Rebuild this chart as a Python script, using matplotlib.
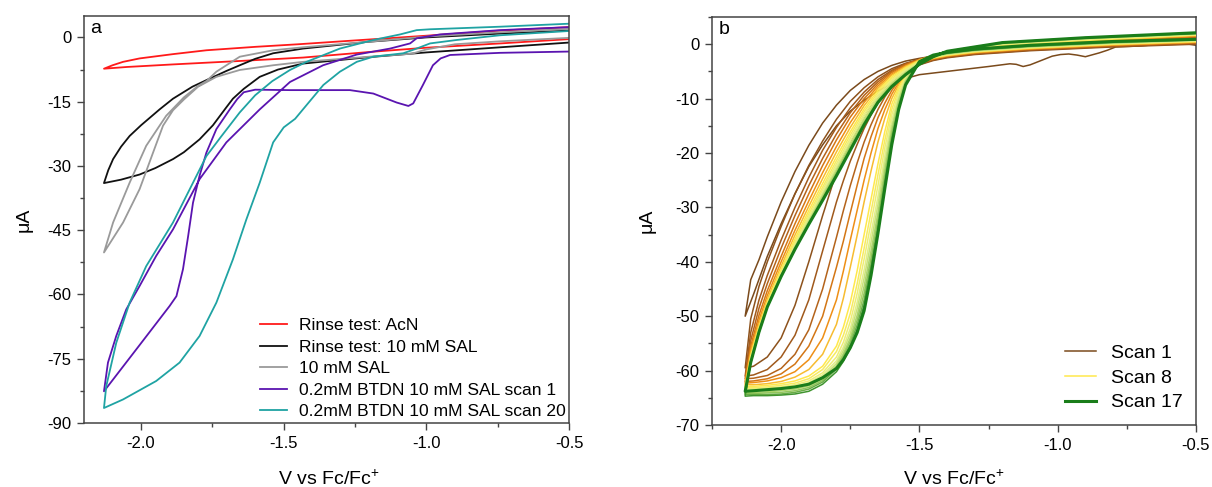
import numpy as np
import matplotlib
matplotlib.use("Agg")
import matplotlib.pyplot as plt
from matplotlib.colors import LinearSegmentedColormap
from matplotlib.ticker import MultipleLocator

plt.rcParams['font.family'] = ['Liberation Sans', 'DejaVu Sans']
plt.rcParams['axes.unicode_minus'] = False
plt.rcParams['mathtext.default'] = 'regular'

# ---------------- panel a : (V vs Fc/Fc+, uA), forward sweep then reverse ----------------
acn_loop = [(-0.5, -0.4), (-0.74, -1.4), (-1.0, -2.4), (-1.2, -3.4), (-1.432, -4.7), (-1.654, -5.5),
            (-1.888, -6.3), (-2.05, -6.9), (-2.13, -7.3),
            (-2.1, -6.5), (-2.063, -5.7), (-2.005, -4.9), (-1.888, -3.9), (-1.771, -3.0), (-1.6, -2.2),
            (-1.45, -1.6), (-1.25, -0.7), (-1.0, 0.4), (-0.74, 1.6), (-0.5, 2.4)]

rinse_sal_loop = [(-0.5, -1.2), (-0.74, -2.3), (-1.0, -3.5), (-1.2, -4.6), (-1.432, -6.1), (-1.52, -7.5),
                  (-1.584, -9.2), (-1.64, -12.0), (-1.678, -14.3), (-1.702, -16.4), (-1.748, -20.5),
                  (-1.795, -23.8), (-1.85, -26.8), (-1.888, -28.4), (-1.95, -30.5), (-2.005, -32.0),
                  (-2.07, -33.2), (-2.13, -34.0),
                  (-2.115, -31.0), (-2.098, -28.4), (-2.07, -25.5), (-2.04, -23.0), (-2.0, -20.5),
                  (-1.935, -16.8), (-1.888, -14.3), (-1.82, -11.5), (-1.772, -10.0), (-1.7, -7.8),
                  (-1.654, -6.5), (-1.6, -5.0), (-1.537, -3.7), (-1.432, -2.6), (-1.2, -1.0),
                  (-1.0, 0.0), (-0.74, 0.9), (-0.5, 1.6)]

sal_loop = [(-0.5, -0.1), (-0.74, -0.9), (-0.9, -1.6), (-1.0, -2.8), (-1.05, -3.8), (-1.2, -4.5),
            (-1.432, -5.7), (-1.537, -6.5), (-1.654, -7.6), (-1.736, -9.2), (-1.8, -11.5), (-1.85, -14.5),
            (-1.888, -17.0), (-1.923, -20.6), (-1.958, -26.9), (-2.005, -35.4), (-2.063, -43.2), (-2.13, -50.2),
            (-2.098, -43.2), (-2.04, -33.9), (-1.982, -25.3), (-1.912, -18.3), (-1.85, -14.0), (-1.8, -11.3),
            (-1.771, -10.2), (-1.736, -8.0), (-1.654, -4.5), (-1.537, -3.0), (-1.432, -2.3), (-1.2, -1.0),
            (-1.0, 0.2), (-0.74, 1.2), (-0.5, 2.0)]

btdn_scan1_loop = [(-0.5, -3.3), (-0.742, -3.6), (-0.917, -4.1), (-0.95, -4.9), (-0.977, -6.5), (-1.012, -11.1),
                   (-1.046, -15.4), (-1.063, -16.0), (-1.104, -15.2), (-1.186, -13.1), (-1.268, -12.3),
                   (-1.478, -12.3), (-1.6, -12.2), (-1.64, -12.8), (-1.663, -14.4), (-1.689, -16.8),
                   (-1.736, -21.4), (-1.771, -26.9), (-1.795, -32.3), (-1.818, -38.6), (-1.835, -46.4),
                   (-1.853, -54.1), (-1.876, -60.4), (-1.9, -62.7), (-2.005, -71.8), (-2.13, -82.6),
                   (-2.116, -75.9), (-2.087, -69.7), (-2.052, -63.5), (-2.005, -58.0), (-1.947, -51.0),
                   (-1.888, -44.8), (-1.795, -33.1), (-1.701, -24.5), (-1.584, -16.8), (-1.478, -10.4),
                   (-1.362, -6.5), (-1.244, -4.0), (-1.127, -2.6), (-1.057, -1.4), (-1.034, -0.2),
                   (-0.952, 0.7), (-0.742, 1.7), (-0.5, 2.4)]

btdn_scan20_loop = [(-0.5, 1.5), (-0.742, 0.5), (-0.894, -0.6), (-0.987, -1.4), (-1.034, -2.6), (-1.081, -3.7),
                    (-1.186, -4.5), (-1.244, -5.7), (-1.303, -8.0), (-1.361, -11.1), (-1.42, -15.8),
                    (-1.46, -19.0), (-1.5, -21.0), (-1.537, -24.5), (-1.584, -33.9), (-1.631, -42.5),
                    (-1.678, -51.8), (-1.736, -61.9), (-1.795, -69.7), (-1.865, -75.9), (-1.947, -80.2),
                    (-2.063, -84.5), (-2.13, -86.5),
                    (-2.122, -81.4), (-2.087, -71.3), (-2.04, -61.9), (-1.982, -53.4), (-1.888, -43.2),
                    (-1.771, -27.7), (-1.72, -23.2), (-1.654, -17.5), (-1.6, -13.5), (-1.54, -10.2),
                    (-1.478, -7.6), (-1.42, -5.7), (-1.303, -2.6), (-1.186, -0.6), (-1.092, 0.7),
                    (-1.034, 1.7), (-0.987, 1.9), (-0.742, 2.5), (-0.5, 3.2)]

labels_a = ["Rinse test: AcN", "Rinse test: 10 mM SAL", "10 mM SAL",
            "0.2mM BTDN 10 mM SAL scan 1", "0.2mM BTDN 10 mM SAL scan 20"]
colors_a = ["#ff1a1a", "#111111", "#9a9a9a", "#5a14b0", "#1fa3a3"]

# ---------------- panel b : 17 scans ----------------
scan1_fwd = [(-0.5, -0.2), (-0.55, 0.2), (-0.6, 0.3), (-0.65, -0.1), (-0.7, -0.3), (-0.74, -0.4),
             (-0.79, -0.5), (-0.82, -1.1), (-0.85, -1.6), (-0.9, -2.3), (-0.93, -2.0), (-0.96, -1.8),
             (-0.99, -1.9), (-1.02, -2.2), (-1.06, -3.0), (-1.1, -3.8), (-1.125, -4.1), (-1.15, -3.7),
             (-1.173, -3.6), (-1.25, -4.1), (-1.35, -4.7), (-1.45, -5.3), (-1.5, -5.6), (-1.55, -6.3),
             (-1.6, -7.3), (-1.65, -8.6), (-1.7, -10.3), (-1.75, -12.3), (-1.8, -15.0), (-1.85, -18.5),
             (-1.9, -22.5), (-1.95, -27.5), (-2.0, -33.0), (-2.05, -39.0), (-2.1, -46.0), (-2.13, -50.0)]

v_fwd = [-0.5, -0.8, -1.1, -1.3, -1.4, -1.45, -1.5, -1.55, -1.575, -1.6, -1.625, -1.65, -1.675,
         -1.7, -1.725, -1.75, -1.775, -1.8, -1.85, -1.9, -1.95, -2.0, -2.05, -2.1, -2.13]
# forward sweeps, scans 2..17
fwd_scans = [
    [0.0, -0.5, -1.2, -1.9, -2.5, -3.0, -3.8, -5.0, -5.9, -7.0, -8.3, -9.8, -11.5, -13.5, -15.8, -18.3, -20.8, -23.5, -31.5, -40.0, -48.0, -54.0, -57.5, -59.2, -59.5],
    [0.1, -0.4, -1.1, -1.8, -2.4, -2.9, -3.7, -5.0, -6.0, -7.3, -8.9, -10.8, -13.0, -15.5, -18.4, -21.5, -25.1, -29.0, -38.0, -47.0, -53.5, -57.5, -59.8, -60.8, -61.0],
    [0.2, -0.3, -1.0, -1.7, -2.3, -2.8, -3.6, -5.2, -6.4, -7.8, -9.7, -12.0, -14.8, -18.0, -21.8, -26.0, -30.6, -35.5, -45.0, -52.5, -57.0, -59.6, -60.9, -61.4, -61.5],
    [0.3, -0.2, -0.9, -1.6, -2.2, -2.7, -3.5, -5.3, -6.7, -8.5, -10.8, -13.5, -17.0, -21.0, -25.9, -31.0, -36.2, -41.0, -50.0, -55.5, -58.8, -60.6, -61.5, -61.9, -62.0],
    [0.35, -0.15, -0.85, -1.55, -2.15, -2.65, -3.4, -5.5, -7.1, -9.2, -12.0, -15.5, -20.0, -25.0, -30.5, -36.0, -41.7, -47.0, -54.0, -58.0, -60.2, -61.3, -61.9, -62.2, -62.3],
    [0.4, -0.1, -0.8, -1.5, -2.1, -2.6, -3.3, -5.6, -7.5, -10.0, -13.6, -18.0, -23.3, -29.0, -35.1, -41.0, -46.7, -51.5, -57.0, -59.8, -61.2, -62.0, -62.4, -62.6, -62.6],
    [0.5, 0.0, -0.7, -1.4, -2.0, -2.5, -3.2, -5.8, -7.9, -11.0, -16.0, -22.0, -28.5, -35.0, -41.6, -47.5, -52.0, -55.5, -59.2, -61.0, -61.9, -62.4, -62.7, -62.9, -62.9],
    [0.55, 0.05, -0.65, -1.35, -1.95, -2.45, -3.2, -6.0, -8.4, -12.0, -17.6, -24.0, -30.8, -37.5, -44.0, -49.5, -53.5, -56.5, -59.8, -61.5, -62.3, -62.7, -63.0, -63.1, -63.1],
    [0.6, 0.1, -0.6, -1.3, -1.9, -2.4, -3.2, -6.2, -9.0, -13.0, -19.0, -26.0, -32.8, -39.5, -45.8, -51.0, -54.8, -57.5, -60.4, -61.9, -62.6, -63.0, -63.2, -63.3, -63.3],
    [0.65, 0.15, -0.55, -1.25, -1.85, -2.35, -3.2, -6.4, -9.5, -14.0, -20.5, -28.0, -34.8, -41.5, -47.4, -52.3, -55.7, -58.2, -60.8, -62.2, -62.9, -63.2, -63.4, -63.5, -63.5],
    [0.7, 0.2, -0.5, -1.2, -1.8, -2.3, -3.2, -6.6, -10.0, -15.0, -21.8, -29.5, -36.4, -43.0, -48.6, -53.2, -56.3, -58.7, -61.2, -62.5, -63.1, -63.4, -63.6, -63.7, -63.7],
    [0.75, 0.25, -0.45, -1.15, -1.75, -2.25, -3.2, -6.8, -10.5, -15.8, -23.0, -31.0, -38.0, -44.5, -49.8, -54.0, -56.9, -59.1, -61.5, -62.8, -63.4, -63.7, -63.9, -64.0, -64.0],
    [0.8, 0.3, -0.4, -1.1, -1.7, -2.2, -3.2, -7.0, -11.0, -16.5, -24.0, -32.2, -39.3, -45.8, -50.7, -54.6, -57.3, -59.4, -61.8, -63.1, -63.7, -64.0, -64.1, -64.2, -64.2],
    [0.82, 0.35, -0.35, -1.05, -1.65, -2.15, -3.2, -7.2, -11.5, -17.2, -25.0, -33.3, -40.5, -47.0, -51.6, -55.2, -57.7, -59.7, -62.1, -63.4, -64.0, -64.3, -64.4, -64.4, -64.4],
    [0.85, 0.4, -0.3, -1.0, -1.6, -2.1, -3.2, -7.4, -11.8, -17.8, -25.8, -34.2, -41.5, -48.0, -52.4, -55.8, -58.3, -60.2, -62.5, -63.8, -64.3, -64.5, -64.6, -64.6, -64.7],
    [0.9, 0.5, -0.2, -0.9, -1.5, -2.0, -3.2, -7.5, -12.0, -18.5, -26.5, -34.8, -42.5, -49.0, -53.0, -55.8, -58.0, -59.6, -61.3, -62.5, -63.0, -63.3, -63.5, -63.7, -63.8],
]

v_rev = [-2.13, -2.11, -2.08, -2.05, -2.0, -1.95, -1.9, -1.85, -1.8, -1.75, -1.7, -1.65,
         -1.6, -1.55, -1.5, -1.45, -1.4, -1.2, -0.9, -0.5]
# reverse sweeps, scans 1..17
rev_scans = [
    [-50.0, -43.3, -39.6, -35.4, -29.0, -23.4, -18.6, -14.5, -11.2, -8.5, -6.5, -5.0, -3.9, -3.1, -2.6, -2.2, -1.9, -0.9, 0.0, 1.0],
    [-59.5, -50.5, -44.5, -40.0, -33.5, -27.5, -22.3, -17.8, -13.8, -10.5, -8.0, -6.0, -4.5, -3.5, -2.8, -2.3, -1.9, -0.8, 0.1, 1.1],
    [-61.0, -53.0, -47.0, -42.5, -36.0, -30.0, -24.5, -19.5, -15.3, -11.7, -8.8, -6.5, -4.8, -3.6, -2.8, -2.2, -1.8, -0.7, 0.2, 1.2],
    [-61.5, -54.5, -48.5, -44.0, -37.5, -31.5, -26.0, -21.0, -16.5, -12.6, -9.4, -6.9, -5.0, -3.7, -2.8, -2.2, -1.7, -0.6, 0.3, 1.3],
    [-62.0, -55.5, -49.8, -45.3, -39.0, -33.0, -27.5, -22.3, -17.6, -13.4, -10.0, -7.3, -5.2, -3.8, -2.8, -2.1, -1.6, -0.5, 0.4, 1.4],
    [-62.3, -56.2, -50.7, -46.2, -40.0, -34.2, -28.8, -23.6, -18.8, -14.4, -10.7, -7.7, -5.5, -4.0, -2.9, -2.1, -1.6, -0.4, 0.5, 1.5],
    [-62.6, -56.8, -51.4, -46.9, -40.8, -35.1, -29.8, -24.7, -19.8, -15.3, -11.3, -8.1, -5.7, -4.1, -2.9, -2.1, -1.5, -0.3, 0.6, 1.6],
    [-62.9, -57.3, -51.9, -47.4, -41.4, -35.8, -30.6, -25.6, -20.7, -16.1, -11.9, -8.5, -6.0, -4.3, -3.0, -2.1, -1.5, -0.2, 0.7, 1.7],
    [-63.1, -57.6, -52.2, -47.7, -41.8, -36.3, -31.2, -26.3, -21.4, -16.7, -12.4, -8.9, -6.3, -4.5, -3.1, -2.1, -1.4, -0.1, 0.8, 1.7],
    [-63.3, -57.8, -52.4, -47.9, -42.1, -36.7, -31.7, -26.8, -22.0, -17.3, -12.9, -9.3, -6.6, -4.7, -3.2, -2.2, -1.4, 0.0, 0.9, 1.8],
    [-63.5, -58.0, -52.6, -48.0, -42.3, -37.0, -32.1, -27.3, -22.5, -17.8, -13.4, -9.7, -6.9, -4.9, -3.3, -2.2, -1.4, 0.1, 1.0, 1.8],
    [-63.7, -58.2, -52.7, -48.1, -42.4, -37.2, -32.4, -27.7, -23.0, -18.3, -13.8, -10.0, -7.2, -5.1, -3.4, -2.2, -1.4, 0.1, 1.0, 1.9],
    [-63.9, -58.3, -52.8, -48.2, -42.5, -37.4, -32.7, -28.0, -23.4, -18.7, -14.2, -10.3, -7.4, -5.3, -3.5, -2.3, -1.4, 0.2, 1.1, 1.9],
    [-64.1, -58.4, -52.9, -48.2, -42.6, -37.5, -32.9, -28.3, -23.7, -19.0, -14.5, -10.5, -7.6, -5.4, -3.6, -2.3, -1.4, 0.2, 1.1, 2.0],
    [-64.3, -58.5, -52.9, -48.3, -42.6, -37.6, -33.0, -28.5, -23.9, -19.3, -14.7, -10.6, -7.7, -5.5, -3.6, -2.3, -1.3, 0.3, 1.2, 2.0],
    [-64.6, -58.6, -53.0, -48.3, -42.7, -37.7, -33.1, -28.6, -24.1, -19.4, -14.8, -10.7, -7.8, -5.6, -3.7, -2.3, -1.3, 0.3, 1.2, 2.0],
    [-63.8, -58.5, -52.9, -48.3, -42.7, -37.7, -33.1, -28.7, -24.2, -19.5, -14.8, -10.7, -7.8, -5.6, -3.7, -2.3, -1.3, 0.3, 1.2, 2.1],
]
legend_scans_b = [1, 8, 17]

scan_cmap = LinearSegmentedColormap.from_list(
    "scans", [(0.0, "#7a4a1c"), (0.18, "#b0601c"), (0.3, "#ec8510"), (0.4375, "#ffe84a"),
              (0.62, "#e6f08a"), (0.8, "#9ccc60"), (1.0, "#1a7d1a")])

# ---------------- figure ----------------
fig = plt.figure(figsize=(12.12, 4.87), dpi=100)
ax_a = fig.add_axes([84 / 1212, 1 - 423 / 487, 485 / 1212, 407 / 487])
ax_b = fig.add_axes([712 / 1212, 1 - 425 / 487, 484 / 1212, 408 / 487])

for loop, lab, col in zip([acn_loop, rinse_sal_loop, sal_loop, btdn_scan1_loop, btdn_scan20_loop],
                          labels_a, colors_a):
    v, i = zip(*loop)
    ax_a.plot(v, i, color=col, lw=1.3, label=lab, solid_joinstyle="round")

s1_v, s1_i = zip(*scan1_fwd)
for n in range(17):
    if n == 0:
        v = list(s1_v) + v_rev
        i = list(s1_i) + rev_scans[0]
    else:
        v = v_fwd + v_rev
        i = fwd_scans[n - 1] + rev_scans[n]
    col = scan_cmap(n / 16)
    lw = 2.2 if n == 16 else 1.1
    lab = f"Scan {n + 1}" if (n + 1) in legend_scans_b else None
    ax_b.plot(v, i, color=col, lw=lw, label=lab, zorder=2 + n, solid_joinstyle="round")

for ax, ylim, ymaj, letter in [(ax_a, (-90, 5), 15, "a"), (ax_b, (-70, 5), 10, "b")]:
    ax.set_xlim(-2.2 if ax is ax_a else -2.25, -0.5)
    ax.set_ylim(*ylim)
    ax.xaxis.set_major_locator(MultipleLocator(0.5))
    ax.xaxis.set_minor_locator(MultipleLocator(0.25))
    ax.yaxis.set_major_locator(MultipleLocator(ymaj))
    ax.yaxis.set_minor_locator(MultipleLocator(ymaj / 2))
    ax.tick_params(which="major", direction="out", length=5, width=1, pad=4,
                   labelsize=12, color="#444444", top=False, right=False)
    ax.tick_params(which="minor", direction="out", length=3, width=1, color="#444444",
                   top=False, right=False)
    ax.xaxis.set_major_formatter(plt.FormatStrFormatter("%.1f"))
    ax.yaxis.set_major_formatter(plt.FormatStrFormatter("%d"))
    for sp in ax.spines.values():
        sp.set_color("#444444")
        sp.set_linewidth(1.1)
    ax.set_xlabel(r"V vs Fc/Fc$^{+}$", fontsize=14)
    ax.set_ylabel("\u03bcA", fontsize=14)
    ax.text(0.013, 0.99, letter, transform=ax.transAxes, ha="left", va="top", fontsize=14)

ax_a.xaxis.set_label_coords(0.505, -0.113)
ax_b.xaxis.set_label_coords(0.5, -0.11)
ax_a.yaxis.set_label_coords(-0.105, 0.5)
ax_b.yaxis.set_label_coords(-0.116, 0.5)

ax_a.legend(loc="lower right", frameon=False, fontsize=12.6, handlelength=1.5, handletextpad=0.7,
            labelspacing=0.36, borderaxespad=0.05, borderpad=0.15)
ax_b.legend(loc="lower right", frameon=False, fontsize=14, handlelength=1.6, handletextpad=0.75,
            labelspacing=0.37, borderaxespad=0.3, borderpad=0.4)

fig.savefig("out.png", dpi=100)
